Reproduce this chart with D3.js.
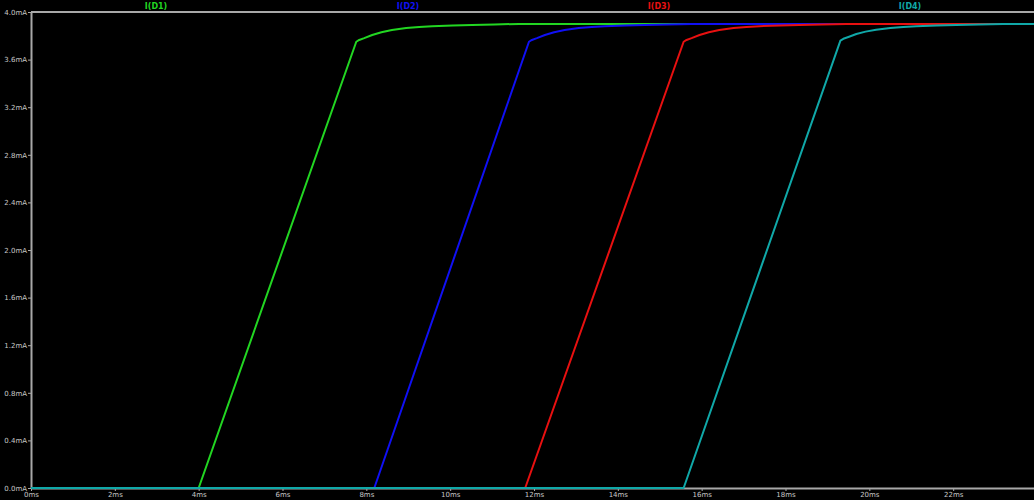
<!DOCTYPE html>
<html>
<head>
<meta charset="utf-8">
<script src="https://cdn.jsdelivr.net/npm/d3@7"></script>
<style>
  html, body { margin: 0; padding: 0; background: #000; }
  svg { display: block; }
</style>
</head>
<body>
<svg id="chart" width="1034" height="500"></svg>
<script>
// ---- data ----
const seriesNames = ["I(D1)", "I(D2)", "I(D3)", "I(D4)"];
const seriesColors = ["#22d622", "#1010f4", "#e81010", "#10a8a8"];

// time (ms)
const tD1 = [0, 4.00, 7.76, 7.83, 7.95, 8.14, 8.36, 8.61, 8.95, 9.26, 9.57, 10.06, 10.52, 11.06, 11.64, 13.5, 24];
const tD2 = [0, 8.19, 11.88, 11.95, 12.07, 12.26, 12.48, 12.73, 13.07, 13.38, 13.69, 14.18, 14.64, 15.18, 15.76, 17.6, 24];
const tD3 = [0, 11.79, 15.57, 15.64, 15.76, 15.95, 16.17, 16.42, 16.76, 17.07, 17.38, 17.87, 18.33, 18.87, 19.45, 21.3, 24];
const tD4 = [0, 15.57, 19.31, 19.38, 19.50, 19.69, 19.91, 20.16, 20.50, 20.81, 21.12, 21.61, 22.07, 22.61, 23.19, 24];
// current (mA)
const iD1 = [0, 0, 3.75, 3.765, 3.78, 3.807, 3.83, 3.848, 3.865, 3.874, 3.881, 3.886, 3.891, 3.895, 3.90, 3.90, 3.90];
const iD2 = [0, 0, 3.75, 3.765, 3.78, 3.807, 3.83, 3.848, 3.865, 3.874, 3.881, 3.886, 3.891, 3.895, 3.90, 3.90, 3.90];
const iD3 = [0, 0, 3.75, 3.765, 3.78, 3.807, 3.83, 3.848, 3.865, 3.874, 3.881, 3.886, 3.891, 3.895, 3.90, 3.90, 3.90];
const iD4 = [0, 0, 3.76, 3.775, 3.79, 3.815, 3.835, 3.85, 3.865, 3.874, 3.881, 3.886, 3.891, 3.895, 3.90, 3.90];

const xTicks = [0, 2, 4, 6, 8, 10, 12, 14, 16, 18, 20, 22];
const xTickLabels = ["0ms", "2ms", "4ms", "6ms", "8ms", "10ms", "12ms", "14ms", "16ms", "18ms", "20ms", "22ms"];
const yTicks = [0, 0.4, 0.8, 1.2, 1.6, 2.0, 2.4, 2.8, 3.2, 3.6, 4.0];
const yTickLabels = ["0.0mA", "0.4mA", "0.8mA", "1.2mA", "1.6mA", "2.0mA", "2.4mA", "2.8mA", "3.2mA", "3.6mA", "4.0mA"];

// ---- chart ----
const svg = d3.select("#chart");
const plotLeft = 31, plotTop = 12, plotBottom = 488, plotRight = 1037;
const x = d3.scaleLinear().domain([0, 24]).range([plotLeft, plotRight]);
const y = d3.scaleLinear().domain([0, 4]).range([plotBottom, plotTop]);

const axisColor = "#a8a8a8";
const textColor = "#c8c8c8";

// frame: top line and left axis
svg.append("line").attr("x1", plotLeft).attr("x2", 1034).attr("y1", plotTop).attr("y2", plotTop)
  .attr("stroke", axisColor).attr("stroke-width", 2);

const yAxis = d3.axisLeft(y).tickValues(yTicks)
  .tickFormat((d, i) => yTickLabels[i]).tickSize(3).tickPadding(1).tickSizeOuter(0);
const gy = svg.append("g").attr("transform", `translate(${plotLeft},0)`).call(yAxis);
gy.select(".domain").attr("stroke", axisColor).attr("stroke-width", 2);
gy.selectAll(".tick line").attr("stroke", axisColor);
gy.selectAll(".tick text").attr("fill", textColor)
  .style("font-family", "DejaVu Sans").style("font-size", "7px");

const xAxis = d3.axisBottom(x).tickValues(xTicks)
  .tickFormat((d, i) => xTickLabels[i]).tickSize(3).tickPadding(1).tickSizeOuter(0);
const gx = svg.append("g").attr("transform", `translate(0,${plotBottom})`).call(xAxis);
gx.select(".domain").attr("stroke", axisColor).attr("stroke-width", 2);
gx.selectAll(".tick line").attr("stroke", axisColor);
gx.selectAll(".tick text").attr("fill", textColor)
  .style("font-family", "DejaVu Sans").style("font-size", "7px");

// series
const times = [tD1, tD2, tD3, tD4];
const currents = [iD1, iD2, iD3, iD4];
const line = d3.line().x(d => x(d[0])).y(d => y(d[1])).curve(d3.curveLinear);

seriesNames.forEach((name, k) => {
  const pts = times[k].map((t, j) => [t, currents[k][j]]);
  svg.append("path").datum(pts)
    .attr("d", line)
    .attr("fill", "none")
    .attr("stroke", seriesColors[k])
    .attr("stroke-width", 2)
    .attr("stroke-linejoin", "round");
});

// legend labels along the top
const legendX = [156, 408, 659, 910];
seriesNames.forEach((name, k) => {
  svg.append("text")
    .attr("x", legendX[k]).attr("y", 9)
    .attr("text-anchor", "middle")
    .attr("fill", seriesColors[k])
    .style("font-family", "DejaVu Sans")
    .style("font-size", "8px")
    .style("font-weight", "bold")
    .text(name);
});
</script>
</body>
</html>
